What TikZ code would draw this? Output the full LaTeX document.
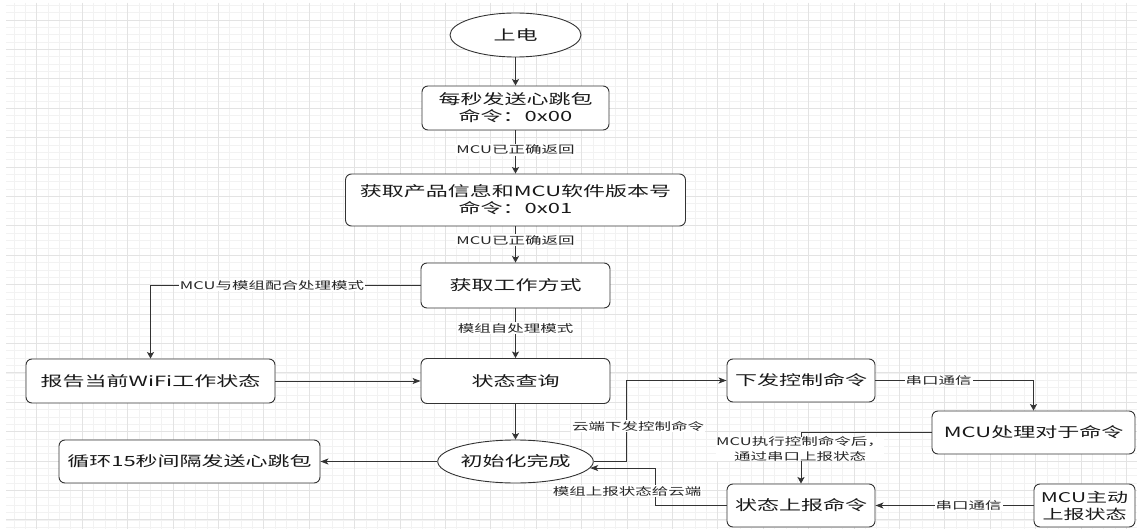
\documentclass[tikz,border=0pt]{standalone}
\usepackage{fontspec}
\usepackage{graphicx}
\newfontfamily\cjk{Noto Sans CJK SC}
\usetikzlibrary{shapes.geometric,arrows.meta}
\newcommand{\sq}[1]{\scalebox{1}[0.64]{#1}}
\tikzset{
  box/.style={draw=black!80, line width=0.9pt, rounded corners=6pt, fill=white,
    font=\cjk\fontsize{22}{17}\selectfont, align=center, inner sep=0pt, text=black!90},
  oval/.style={ellipse, draw=black!80, line width=0.9pt, fill=white,
    font=\cjk\fontsize{22}{17}\selectfont, align=center, inner sep=0pt, text=black!90},
  lbl/.style={fill=white, inner sep=1pt, font=\cjk\fontsize{16.5}{15}\selectfont,
    align=center, text=black!85},
  conn/.style={draw=black!80, line width=0.9pt},
  arrv/.style={conn, -{Stealth[length=6.5pt,width=7pt,inset=1.5pt]}},
  arrh/.style={conn, -{Stealth[length=8pt,width=6pt,inset=2pt]}},
  minorgrid/.style={draw=black!5, line width=0.6pt},
  majorgrid/.style={draw=black!11, line width=0.8pt}
}
\begin{document}
\begin{tikzpicture}[x=1pt,y=-1pt]
\useasboundingbox (0,0) rectangle (1137,529);
\fill[white] (0,0) rectangle (1137,529);
% grid
\foreach \i in {-2,...,96}{
  \pgfmathsetmacro\xx{36.7+\i*11.35}
  \draw[minorgrid] (\xx,3) -- (\xx,529);
}
\foreach \j in {-2,...,69}{
  \pgfmathsetmacro\yy{20+\j*7.35}
  \draw[minorgrid] (6,\yy) -- (1137,\yy);
}
\foreach \i in {0,4,...,96}{
  \pgfmathsetmacro\xx{36.7+\i*11.35}
  \draw[majorgrid] (\xx,3) -- (\xx,529);
}
\foreach \j in {0,4,...,68}{
  \pgfmathsetmacro\yy{20+\j*7.35}
  \draw[majorgrid] (6,\yy) -- (1137,\yy);
}
% nodes
\node[oval, minimum width=131pt, minimum height=44pt] (pwr) at (515.5,35) {\sq{上电}};
\node[box, minimum width=187pt, minimum height=44pt] (b1) at (515.5,108) {\sq{每秒发送心跳包}\\\sq{命令：0x00}};
\node[box, minimum width=340pt, minimum height=52pt] (b2) at (515.5,200) {\sq{获取产品信息和MCU软件版本号}\\\sq{命令：0x01}};
\node[box, minimum width=189pt, minimum height=45pt] (b3) at (515.5,285.5) {\sq{获取工作方式}};
\node[box, minimum width=189pt, minimum height=45pt] (b4) at (515.5,381) {\sq{状态查询}};
\node[box, minimum width=249pt, minimum height=44pt] (wifi) at (150.5,381) {\sq{报告当前WiFi工作状态}};
\node[oval, minimum width=132pt, minimum height=43pt] (init) at (515.5,461.5) {\sq{初始化完成}};
\node[box, minimum width=261pt, minimum height=43pt] (loop) at (189.5,461.5) {\sq{循环15秒间隔发送心跳包}};
\node[box, minimum width=148pt, minimum height=43pt] (ctrl) at (801,380.5) {\sq{下发控制命令}};
\node[box, minimum width=203pt, minimum height=43pt] (mcu) at (1033.5,432.5) {\sq{MCU处理对于命令}};
\node[box, minimum width=148pt, minimum height=43pt] (rep) at (801,505.5) {\sq{状态上报命令}};
\node[box, minimum width=101pt, minimum height=43pt, font=\cjk\fontsize{21}{17}\selectfont] (act) at (1084.5,505.5) {\sq{MCU主动}\\\sq{上报状态}};
% connectors
\draw[arrv] (pwr) -- (b1);
\draw[arrv] (b1) -- node[lbl, pos=0.45] (l1) {\sq{MCU已正确返回}} (b2);
\draw[arrv] (b2) -- node[lbl, pos=0.38] (l2) {\sq{MCU已正确返回}} (b3);
\draw[arrv] (b3.west) -| node[lbl, pos=0.275] (l3) {\sq{MCU与模组配合处理模式}} (wifi.north);
\draw[arrv] (b3) -- node[lbl, pos=0.4] (l4) {\sq{模组自处理模式}} (b4);
\draw[arrh] (wifi) -- (b4);
\draw[arrv] (b4) -- (init);
\draw[arrh] (init) -- (loop);
\coordinate (c1) at (626,461.5);
\draw[arrh] (init.east) -- (c1) |- (ctrl.west);
\node[lbl] (l5) at (638,426) {\sq{云端下发控制命令}};
\draw[arrv] (ctrl.east) -| node[lbl, pos=0.2] (l6) {\sq{串口通信}} (mcu.north);
\draw[arrv] (mcu.west) -| (rep.north);
\node[lbl, inner sep=0pt] (l7) at (800,449) {\sq{MCU执行控制命令后，}\\\sq{通过串口上报状态}};
\draw[arrh] (act.west) -- node[lbl, pos=0.41] (l8) {\sq{串口通信}} (rep.east);
\coordinate (c2) at (655,505.5);
\draw[arrh] (rep.west) -- (c2) |- (init.-5.9);
\node[lbl] (l9) at (627,491) {\sq{模组上报状态给云端}};
\end{tikzpicture}
\end{document}
